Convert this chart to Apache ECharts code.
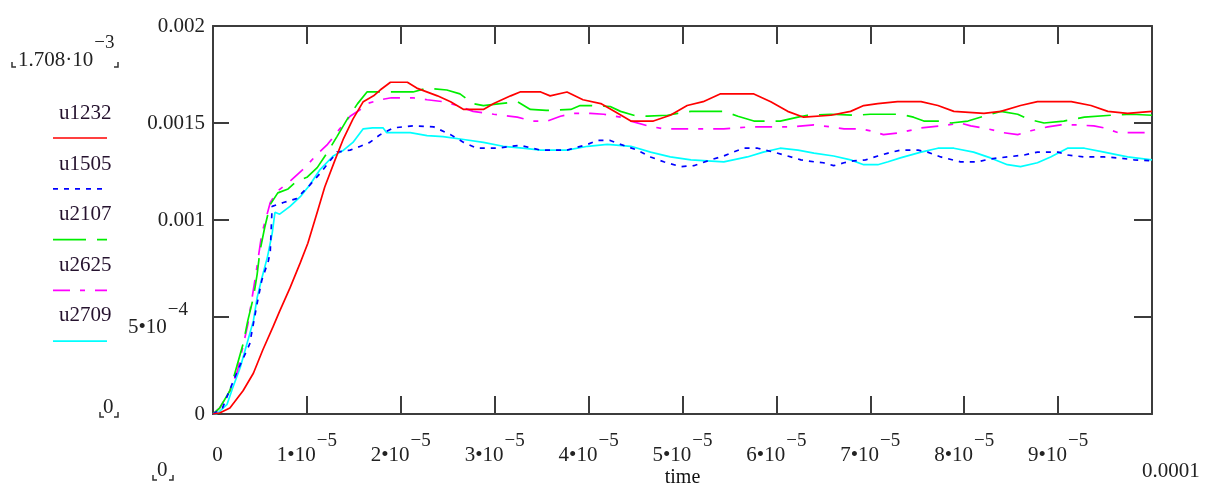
<!DOCTYPE html>
<html><head><meta charset="utf-8">
<script src="https://cdn.jsdelivr.net/npm/echarts@6/dist/echarts.min.js"></script>
<style>html,body{margin:0;padding:0;background:#fff}#c{width:1207px;height:483px}</style>
</head><body><div id="c"></div>
<script>
// time in microseconds (1e-6 s), values in units of 1e-3
const seriesNames = ['u1232', 'u1505', 'u2107', 'u2625', 'u2709'];

const u1232 = [[0,0],[0.7,0.005],[1.8,0.031],[3.2,0.12],[4.3,0.21],[5.3,0.33],[6.4,0.45],[7.1,0.53],[8.2,0.65],[9.3,0.78],[10.1,0.88],[11.1,1.04],[11.9,1.17],[13.0,1.31],[13.9,1.42],[14.9,1.52],[16.0,1.61],[17.1,1.64],[17.8,1.67],[18.9,1.71],[20.7,1.71],[21.7,1.68],[23.9,1.64],[25.3,1.61],[26.7,1.57],[28.8,1.57],[29.9,1.60],[31.7,1.64],[32.7,1.66],[34.9,1.66],[35.9,1.64],[37.7,1.66],[39.4,1.62],[41.3,1.60],[43.1,1.55],[44.5,1.51],[46.9,1.51],[48.7,1.54],[50.5,1.59],[52.2,1.61],[54.0,1.65],[57.6,1.65],[59.4,1.61],[61.2,1.56],[62.9,1.53],[65.8,1.54],[67.9,1.56],[69.3,1.59],[70.8,1.60],[72.9,1.61],[75.4,1.61],[77.2,1.59],[78.9,1.56],[82.1,1.55],[83.9,1.56],[86.0,1.59],[87.8,1.61],[91.4,1.61],[93.5,1.59],[95.3,1.56],[97.4,1.55],[100,1.56]];

const u1505 = [[0,0],[1.0,0.03],[2.5,0.21],[3.9,0.36],[4.7,0.57],[5.2,0.69],[5.9,0.79],[6.1,0.84],[6.3,1.07],[7.5,1.09],[8.9,1.11],[10.3,1.18],[11.4,1.24],[13.2,1.35],[14.6,1.36],[15.7,1.38],[16.7,1.40],[17.8,1.44],[19.2,1.475],[21.3,1.485],[23.5,1.48],[25.3,1.44],[26.7,1.40],[28.1,1.37],[30.3,1.37],[31.7,1.38],[32.7,1.385],[34.9,1.36],[37.7,1.36],[39.9,1.39],[40.9,1.41],[42.3,1.41],[43.4,1.39],[45.2,1.36],[46.6,1.325],[48.0,1.30],[49.8,1.275],[51.2,1.28],[53.0,1.31],[54.4,1.33],[55.4,1.35],[56.5,1.37],[58.0,1.37],[59.7,1.35],[61.2,1.33],[62.6,1.31],[64.0,1.30],[65.0,1.295],[66.1,1.28],[67.2,1.295],[68.2,1.305],[69.5,1.31],[70.8,1.33],[71.9,1.345],[73.2,1.36],[75.1,1.36],[76.1,1.35],[77.5,1.325],[79.6,1.30],[81.4,1.30],[82.8,1.315],[84.6,1.325],[86.4,1.335],[87.8,1.35],[90.0,1.35],[91.0,1.335],[92.8,1.325],[94.9,1.325],[96.4,1.32],[98.1,1.31],[100,1.305]];

const u2107 = [[0,0],[0.7,0.03],[1.8,0.12],[2.5,0.24],[3.2,0.36],[3.7,0.48],[4.3,0.60],[4.7,0.72],[5.0,0.84],[5.5,0.96],[6.1,1.08],[6.9,1.14],[8.0,1.16],[8.9,1.20],[10.0,1.22],[11.1,1.27],[12.2,1.35],[13.2,1.43],[14.3,1.52],[15.4,1.60],[16.4,1.66],[17.8,1.66],[21.3,1.66],[22.8,1.68],[24.9,1.67],[26.3,1.65],[27.7,1.60],[28.8,1.59],[30.6,1.60],[32.4,1.61],[33.8,1.57],[35.5,1.565],[38.1,1.57],[39.1,1.59],[40.2,1.59],[42.3,1.585],[43.4,1.56],[44.8,1.54],[46.3,1.535],[48.4,1.54],[49.5,1.55],[50.9,1.56],[54.4,1.56],[55.9,1.535],[57.6,1.51],[60.4,1.51],[62.3,1.53],[63.3,1.54],[65.8,1.545],[68.4,1.54],[70.0,1.545],[73.2,1.545],[74.6,1.53],[75.7,1.51],[77.5,1.51],[78.6,1.50],[80.4,1.51],[82.1,1.535],[83.9,1.56],[85.7,1.545],[86.8,1.52],[88.5,1.50],[90.6,1.51],[92.8,1.53],[95.6,1.54],[97.8,1.545],[100,1.54]];

const u2625 = [[0,0],[0.7,0.03],[1.8,0.12],[2.6,0.22],[3.7,0.46],[4.5,0.70],[5.2,0.93],[6.1,1.09],[6.9,1.15],[8.2,1.20],[9.8,1.27],[11.1,1.34],[12.2,1.39],[13.5,1.47],[14.6,1.535],[15.7,1.57],[16.4,1.60],[17.8,1.62],[19.0,1.63],[21.3,1.63],[22.8,1.62],[24.5,1.61],[26.0,1.59],[27.7,1.56],[29.9,1.545],[32.4,1.53],[34.1,1.51],[35.6,1.51],[37.0,1.535],[38.4,1.55],[40.2,1.55],[41.6,1.545],[43.4,1.53],[44.5,1.51],[46.3,1.485],[48.0,1.47],[54.4,1.47],[55.9,1.475],[57.2,1.48],[61.5,1.48],[64.0,1.49],[65.8,1.48],[67.2,1.47],[69.0,1.47],[70.4,1.455],[71.4,1.44],[73.2,1.45],[75.4,1.475],[77.5,1.485],[79.6,1.50],[80.7,1.485],[82.5,1.47],[84.2,1.45],[85.7,1.44],[87.1,1.46],[88.9,1.48],[90.3,1.49],[92.1,1.49],[93.8,1.485],[94.9,1.475],[96.4,1.45],[100,1.45]];

const u2709 = [[0,0],[0.4,0.0],[1.5,0.05],[2.1,0.135],[2.9,0.24],[3.6,0.36],[4.3,0.48],[4.7,0.60],[5.2,0.70],[5.8,0.81],[6.3,0.93],[6.6,1.04],[7.1,1.03],[8.2,1.07],[9.3,1.12],[10.3,1.18],[11.4,1.26],[12.8,1.33],[13.9,1.36],[14.9,1.40],[16.0,1.47],[17.0,1.475],[18.1,1.475],[18.5,1.45],[21.0,1.45],[22.8,1.435],[24.5,1.43],[26.7,1.415],[28.8,1.40],[30.9,1.38],[33.0,1.37],[34.9,1.36],[37.7,1.36],[39.9,1.38],[42.0,1.39],[44.5,1.38],[46.6,1.35],[48.7,1.325],[50.9,1.31],[54.4,1.30],[56.9,1.325],[58.6,1.35],[60.4,1.37],[62.3,1.36],[64.0,1.345],[66.1,1.33],[67.9,1.31],[69.3,1.285],[70.8,1.285],[71.9,1.30],[73.2,1.32],[75.4,1.35],[77.2,1.37],[78.9,1.37],[81.0,1.35],[82.8,1.32],[84.6,1.285],[86.0,1.275],[87.8,1.295],[89.2,1.325],[91.0,1.37],[92.8,1.37],[94.9,1.35],[97.4,1.325],[100,1.31]];

const seriesData = [u1232, u1505, u2107, u2625, u2709];

// tick labels: [mantissa, exponent]
const xTickLabels = [['0',''],['1•10','−5'],['2•10','−5'],['3•10','−5'],['4•10','−5'],['5•10','−5'],['6•10','−5'],['7•10','−5'],['8•10','−5'],['9•10','−5'],['0.0001','']];
const yTickLabels = [['0',''],['5•10','−4'],['0.001',''],['0.0015',''],['0.002','']];
const xAxisName = 'time';
const topMarker = ['1.708·10', '−3'];
const zeroMarker = '0';

// styles (not data)
const colors = ['#ff0000', '#0000ff', '#00ee00', '#ff00ff', '#00ffff'];
const dashes = [null, [5, 6], [33, 11], [17, 10, 5, 10], null];
const FONT = 'Liberation Serif';
const TXT = '#222222';

const chart = echarts.init(document.getElementById('c'), null, {renderer: 'canvas'});

const gl = {left: 213, top: 26, width: 939, height: 388, containLabel: false, outerBoundsMode: 'none'};
const axisLineStyle = {color: '#3c3c3c', width: 2};
const tickStyle = {color: '#3c3c3c', width: 2};

function xFmt(v) {
  const i = Math.round(v / 10);
  if (i === xTickLabels.length - 1) return '';
  const [b, e] = xTickLabels[i];
  if (!e) return '{z|' + b + '}';
  return '{a|' + b + '}{b|' + e + '}';
}
function yFmt(v) {
  const i = Math.round(v / 0.5);
  const [b, e] = yTickLabels[i];
  if (!e) return b;
  return '{a|' + b + '}{b|' + e + '}';
}

const legendGraphics = [];
const legendTop = 103, legendStep = 50.5;
seriesNames.forEach((n, i) => {
  legendGraphics.push({
    type: 'text', left: 59, top: legendTop + i * legendStep,
    style: {text: n, font: '21px "' + FONT + '"', fill: '#25122e'}
  });
  const ly = 138 + i * 50.8;
  legendGraphics.push({
    type: 'line', shape: {x1: 53, y1: ly, x2: 107, y2: ly},
    style: {stroke: colors[i], lineWidth: 1.7, lineDash: dashes[i] || null}
  });
});

function bracketL(x, y) { return {type: 'polyline', shape: {points: [[x, y - 5], [x, y], [x + 4, y]]}, style: {stroke: '#333', lineWidth: 1.5, fill: null}}; }
function bracketR(x, y) { return {type: 'polyline', shape: {points: [[x - 4, y], [x, y], [x, y - 5]]}, style: {stroke: '#333', lineWidth: 1.5, fill: null}}; }

const markerGraphics = [
  {type: 'text', left: 18, top: 34, style: {
    text: '{a|' + topMarker[0] + '}{b|' + topMarker[1] + '}',
    rich: {a: {fontFamily: FONT, fontSize: 21, fill: TXT, padding: [17, 0, 0, 0]}, b: {fontFamily: FONT, fontSize: 19, fill: TXT, padding: [0, 0, 17, 1]}}
  }},
  bracketL(12, 67), bracketR(118, 67),
  {type: 'text', left: 103, top: 397, style: {text: zeroMarker, font: '21px "' + FONT + '"', fill: TXT}},
  bracketL(100, 417), bracketR(118, 417),
  {type: 'text', left: 157, top: 460, style: {text: zeroMarker, font: '21px "' + FONT + '"', fill: TXT}},
  bracketL(153, 480), bracketR(173, 480),
  {type: 'text', left: 1142, top: 461, style: {text: xTickLabels[xTickLabels.length - 1][0], font: '21px "' + FONT + '"', fill: TXT}}
];

const option = {
  backgroundColor: '#ffffff',
  animation: false,
  grid: gl,
  xAxis: [{
    type: 'value', min: 0, max: 100, interval: 10,
    name: xAxisName, nameLocation: 'middle', nameGap: 54, nameMoveOverlap: false,
    nameTextStyle: {fontFamily: FONT, fontSize: 20, color: '#111', verticalAlign: 'top'},
    axisLine: {show: true, onZero: false, lineStyle: axisLineStyle},
    axisTick: {show: true, inside: true, length: 18, lineStyle: tickStyle},
    splitLine: {show: false},
    axisLabel: {
      margin: 17, formatter: xFmt, color: TXT, fontFamily: FONT, fontSize: 21,
      showMinLabel: true, showMaxLabel: true,
      rich: {
        a: {fontFamily: FONT, fontSize: 21, color: TXT, padding: [14, 0, 0, 0]},
        b: {fontFamily: FONT, fontSize: 19, color: TXT, padding: [0, 0, 14, 1]},
        z: {fontFamily: FONT, fontSize: 21, color: TXT, padding: [14, 0, 0, 9]}
      }
    }
  }, {
    type: 'value', position: 'top', min: 0, max: 100, interval: 10,
    axisLine: {show: true, onZero: false, lineStyle: axisLineStyle},
    axisTick: {show: true, inside: true, length: 18, lineStyle: tickStyle},
    splitLine: {show: false}, axisLabel: {show: false}
  }],
  yAxis: [{
    type: 'value', min: 0, max: 2, interval: 0.5,
    axisLine: {show: true, onZero: false, lineStyle: axisLineStyle},
    axisTick: {show: true, inside: true, length: 16, lineStyle: tickStyle},
    splitLine: {show: false},
    axisLabel: {
      margin: 8, formatter: yFmt, color: TXT, fontFamily: FONT, fontSize: 21,
      showMinLabel: true, showMaxLabel: true,
      rich: {
        a: {fontFamily: FONT, fontSize: 21, color: TXT, padding: [20, 0, 0, 0]},
        b: {fontFamily: FONT, fontSize: 19, color: TXT, padding: [4, 17, 17, 1]}
      }
    }
  }, {
    type: 'value', position: 'right', min: 0, max: 2, interval: 0.5,
    axisLine: {show: true, onZero: false, lineStyle: axisLineStyle},
    axisTick: {show: true, inside: true, length: 18, lineStyle: tickStyle},
    splitLine: {show: false}, axisLabel: {show: false}
  }],
  series: seriesNames.map((n, i) => ({
    name: n, type: 'line', data: seriesData[i],
    showSymbol: false, symbol: 'none', smooth: false, clip: true,
    lineStyle: {color: colors[i], width: 1.7, type: dashes[i] || 'solid'},
    z: 10 - i
  })),
  graphic: legendGraphics.concat(markerGraphics)
};
chart.setOption(option);
</script>
</body></html>
